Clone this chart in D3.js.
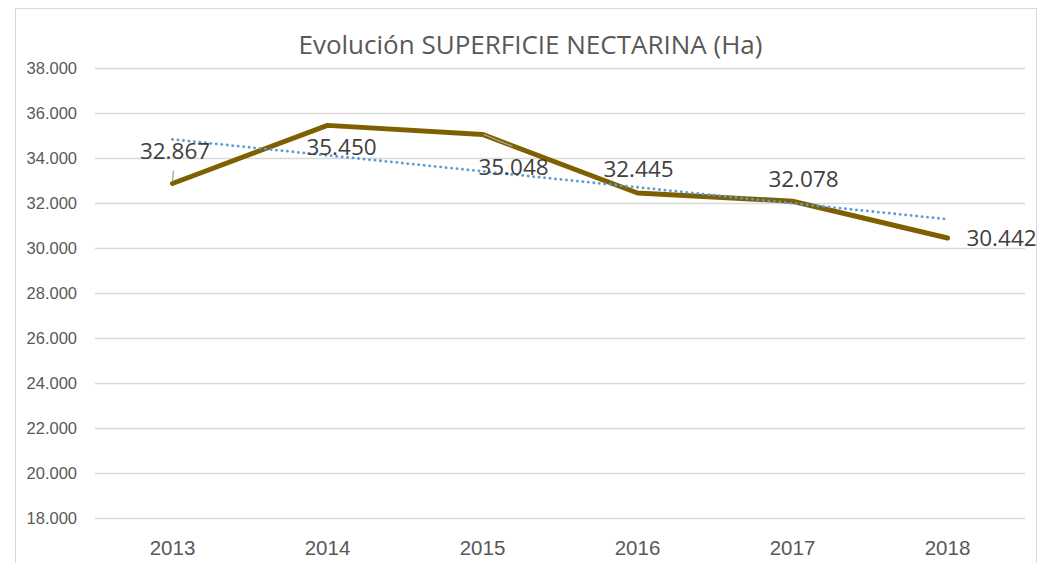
<!DOCTYPE html>
<html>
<head>
<meta charset="utf-8">
<script src="https://cdn.jsdelivr.net/npm/d3@7"></script>
<style>
body{margin:0;background:#fff;}
svg{display:block;font-family:"Open Sans",sans-serif;}
</style>
</head>
<body>
<svg id="chart" width="1051" height="563"></svg>
<script>
const categories = ["2013","2014","2015","2016","2017","2018"];
const values = [32867, 35450, 35048, 32445, 32078, 30442];
const yTicks = [18000,20000,22000,24000,26000,28000,30000,32000,34000,36000,38000];
const title = "Evolución SUPERFICIE NECTARINA (Ha)";
// label placement offsets (layout only): [dx, dy] from point to label center/baseline
const labelOffsets = [[2.5,-24.5],[14,29.6],[31,40.6],[1,-16],[11,-14],[54,8]];

(function(){
const fmtES = v => {
  const s = String(Math.round(v));
  return s.slice(0, s.length-3) + "." + s.slice(-3);
};

const svg = d3.select("#chart");
const mLeft = 95, mRight = 1025, mTop = 68, mBottom = 518;

svg.append("rect").attr("x",15.5).attr("y",8.5).attr("width",1021).attr("height",600)
  .attr("fill","#fff").attr("stroke","#d9d9d9").attr("stroke-width",1);

const x = d3.scaleBand().domain(categories).range([mLeft,mRight]);
const y = d3.scaleLinear().domain([18000,38000]).range([mBottom,mTop]);
const cx = c => x(c) + x.bandwidth()/2;

// grid
const yAxis = d3.axisLeft(y).tickValues(yTicks).tickSize(-(mRight-mLeft)).tickFormat(fmtES);
const gy = svg.append("g").attr("transform",`translate(${mLeft},0)`).call(yAxis);
gy.select(".domain").remove();
gy.selectAll(".tick line").attr("stroke","#d9d9d9").attr("stroke-width",1.3);
gy.selectAll(".tick text").attr("fill","#595959").attr("font-size",16.5).attr("dy","0.35em").attr("x",-18);

// x axis labels
const xAxis = d3.axisBottom(x).tickSize(0).tickPadding(22);
const gx = svg.append("g").attr("transform",`translate(0,${mBottom})`).call(xAxis);
gx.select(".domain").remove();
gx.selectAll(".tick text").attr("fill","#595959").attr("font-size",20.5);

// title
svg.append("text").attr("x",530.5).attr("y",54).attr("text-anchor","middle")
  .attr("fill","#595959").attr("font-size",26).text(title);

// line
const line = d3.line().x((d,i)=>cx(categories[i])).y(d=>y(d));
svg.append("path").datum(values).attr("d",line).attr("fill","none")
  .attr("stroke","#7F6000").attr("stroke-width",5).attr("stroke-linejoin","round").attr("stroke-linecap","round");

// trendline (linear regression)
const n = values.length;
const xs = d3.range(n);
const mx = d3.mean(xs), my = d3.mean(values);
const slope = d3.sum(xs,(xi,i)=>(xi-mx)*(values[i]-my)) / d3.sum(xs,xi=>(xi-mx)**2);
const icpt = my - slope*mx;
const trend = [icpt, icpt + slope*(n-1)];
svg.append("path")
  .attr("d", d3.line()([[cx(categories[0]), y(trend[0])],[cx(categories[n-1]), y(trend[1])]]))
  .attr("fill","none").attr("stroke","#5B9BD5").attr("stroke-width",2.8)
  .attr("stroke-dasharray","0.1,5.4").attr("stroke-linecap","round");

// leader lines
const p0 = [cx(categories[0]), y(values[0])];
svg.append("line").attr("x1",p0[0]+1).attr("y1",p0[1]-13).attr("x2",p0[0]).attr("y2",p0[1]-2)
  .attr("stroke","#a6a6a6").attr("stroke-width",1.3);
const p2 = [cx(categories[2]), y(values[2])];
svg.append("line").attr("x1",p2[0]+1).attr("y1",p2[1]).attr("x2",p2[0]+30).attr("y2",p2[1]+12)
  .attr("stroke","#a6a6a6").attr("stroke-width",1.3);

// data labels
svg.append("g").selectAll("text").data(values).join("text")
  .attr("x",(d,i)=>cx(categories[i]) + labelOffsets[i][0])
  .attr("y",(d,i)=>y(d) + labelOffsets[i][1])
  .attr("text-anchor","middle").attr("fill","#404040").attr("font-size",22.5)
  .text(d=>fmtES(d));
})();
</script>
</body>
</html>
